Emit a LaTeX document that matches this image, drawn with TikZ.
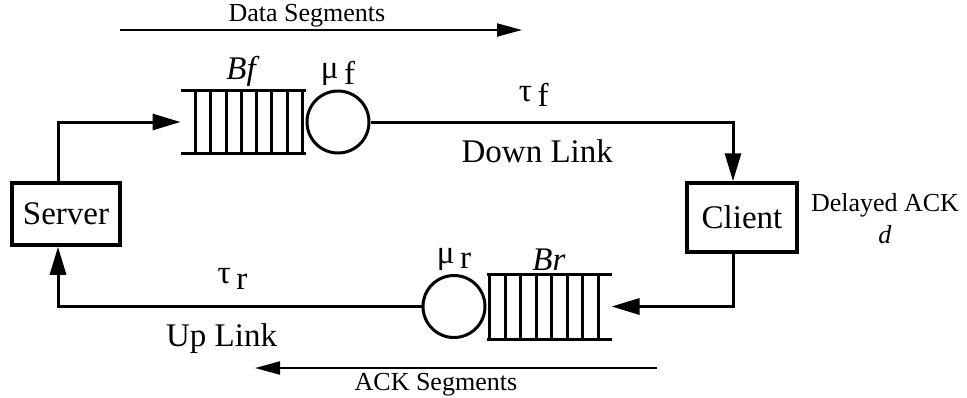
\documentclass[tikz,border=0pt]{standalone}
\usepackage{fontspec}
\setmainfont{Liberation Serif}
\usetikzlibrary{arrows.meta, positioning}

\newcommand{\lowsub}[1]{\,\raisebox{-0.35ex}{#1}}

\begin{document}
\begin{tikzpicture}[x=1pt, y=-1pt, line width=3pt, inner sep=2pt,
    big/.style={font=\fontsize{33}{38}\selectfont},
    small/.style={font=\fontsize{26}{32}\selectfont},
    host/.style={rectangle, draw, line width=3.5pt, big, minimum width=108pt},
    queue/.style={rectangle, minimum width=122pt, minimum height=60pt, inner sep=0pt},
    server/.style={circle, draw, minimum size=62pt, inner sep=0pt},
    >={Triangle[length=28pt, width=16pt]}]
    \useasboundingbox (0,0) rectangle (967,397);

    \node [queue] (qf) at (243, 122) {};
    \node [server, right=0pt of qf] (mf) {};
    \node [big, above=0pt of qf] (bf) {\textit{Bf}};
    \node [big, above=0pt of mf] (muf) {μ\lowsub{f}};

    \node [host, minimum height=62pt] (srv) at (66, 214) {Server};
    \node [host, minimum width=110pt, minimum height=69pt] (cli) at (742, 217.5) {Client};
    \node [small, align=center] (delay) at (885, 219) {Delayed ACK\\\textit{d}};

    \node [queue, minimum height=62pt] (qr) at (549, 306.5) {};
    \node [server, left=0pt of qr] (mr) {};
    \node [big, above=0pt of qr] (br) {\textit{Br}};
    \node [big, above=0pt of mr] (mur) {μ\lowsub{r}};

    % queues
    \draw (qf.north west) -- (qf.north east) (qf.south west) -- (qf.south east);
    \foreach \k in {0,...,7}
        \draw ([xshift={15+15.29*\k}]qf.south west) -- ([xshift={15+15.29*\k}]qf.north west);
    \draw (qr.north west) -- (qr.north east) (qr.south west) -- (qr.south east);
    \foreach \k in {0,...,7}
        \draw ([xshift={-13-15.57*\k}]qr.south east) -- ([xshift={-13-15.57*\k}]qr.north east);

    % links
    \path [->, draw] ([xshift=-8pt]srv.north) |- (qf.west);
    \path [->, draw] (mf.east) -| ([xshift=-9pt]cli.north)
        node [big, pos=0.225, above=12pt] (tauf) {τ\lowsub{f}}
        node [big, pos=0.23, below=14pt] (down) {Down Link};
    \path [->, draw] ([xshift=-9pt]cli.south) |- (qr.east);
    \path [->, draw] (mr.west) -| ([xshift=-8pt]srv.south)
        node [big, pos=0.26, above=14pt] (taur) {τ\lowsub{r}}
        node [big, pos=0.275, below=14pt] (up) {Up Link};

    % segment directions
    \coordinate (ds1) at (120, 30);
    \coordinate (ds2) at (522, 30);
    \coordinate (as1) at (657, 368);
    \coordinate (as2) at (255, 368);
    \path [->, draw, line width=2pt, >={Triangle[length=25pt, width=13pt]}] (ds1) -- node [small, pos=0.465, above=0pt] (data) {Data Segments} (ds2);
    \path [->, draw, line width=2pt, >={Triangle[length=25pt, width=13pt]}] (as1) -- node [small, pos=0.55, below=2pt] (ack) {ACK Segments} (as2);
\end{tikzpicture}
\end{document}
